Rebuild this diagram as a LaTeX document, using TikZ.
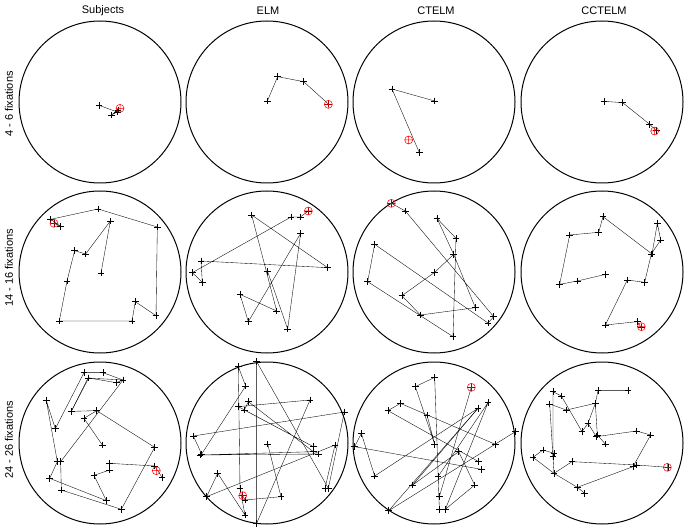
\documentclass[tikz,border=0pt]{standalone}
\usepackage{fontspec}
\setmainfont{Liberation Sans}
\newcommand\scanp[1]{\draw[line width=0.35pt] plot[mark=+,mark size=10pt,mark options={line width=0.4pt}] coordinates {#1};}
\newcommand\redm[1]{\draw[red,line width=0.5pt] #1 circle[radius=12] ++(-12,0) -- ++(24,0) ++(-12,-12) -- ++(0,24);}
\begin{document}
\begin{tikzpicture}[x=1pt,y=-1pt]
\useasboundingbox (0,0) rectangle (685,529);
\tikzset{ring/.style={line width=1pt}, lab/.style={font=\fontsize{11}{13}\selectfont}}
\foreach \cx/\t in {103/Subjects,268/ELM,436/CTELM,604/CCTELM}{\node[lab] at (\cx,11) {\t};}
\node[lab,rotate=90] at (9,104) {4 - 6 fixations};
\node[lab,rotate=90] at (9,268) {14 - 16 fixations};
\node[lab,rotate=90] at (9,440) {24 - 26 fixations};
\foreach \cx in {100,267,434,602}{
  \draw[ring] (\cx,102) circle[radius=81];
  \draw[ring] (\cx,272) circle[radius=81];
  \draw[ring] (\cx,443) circle[radius=81];
}
% row 1
\begin{scope}[shift={(18,20)},scale=1/3]
\scanp{(243,256) (298,276) (280,285) (300,270)}
\redm{(306,265)}
\end{scope}
\begin{scope}[shift={(185,20)},scale=1/3]
\scanp{(247,243) (278,170) (356,185) (430,252)}
\redm{(430,253)}
\end{scope}
\begin{scope}[shift={(352,20)},scale=1/3]
\scanp{(248,243) (120,207) (202,398)}
\redm{(170,360)}
\end{scope}
\begin{scope}[shift={(518,20)},scale=1/3]
\scanp{(258,244) (314,248) (395,313) (415,332)}
\redm{(410,333)}
\end{scope}
% row 2
\begin{scope}[shift={(18,185)},scale=1/3]
\scanp{(249,264) (277,108) (203,207) (170,197) (147,288) (124,408) (342,408) (352,350) (414,392) (418,126) (240,72) (98,103) (128,124) (108,115)}
\redm{(108,115)}
\end{scope}
\begin{scope}[shift={(185,185)},scale=1/3]
\scanp{(248,260) (308,432) (347,145) (190,410) (165,328) (275,378) (200,90) (428,248) (48,228) (52,292) (22,263) (318,96) (346,96) (370,78)}
\redm{(370,78)}
\end{scope}
\begin{scope}[shift={(352,185)},scale=1/3]
\scanp{(305,208) (370,368) (205,390) (150,332) (248,262) (305,208) (255,100) (312,160) (303,455) (47,290) (68,178) (408,414) (425,395) (160,78) (118,55)}
\redm{(118,55)}
\end{scope}
\begin{scope}[shift={(518,185)},scale=1/3]
\scanp{(263,268) (178,288) (125,298) (155,150) (242,142) (255,95) (402,207) (418,115) (428,165) (400,207) (380,292) (328,285) (262,420) (358,410) (370,428)}
\redm{(370,425)}
\end{scope}
% row 3
\begin{scope}[shift={(18,350)},scale=1/3]
\scanp{(253,285) (198,205) (236,182) (160,184) (212,84) (295,98) (315,90) (255,68) (198,68) (112,236) (85,152) (118,335) (95,385) (265,452) (228,376) (275,360) (275,340) (410,348) (432,382)}
\scanp{(236,182) (410,292) (310,478) (130,420) (128,335) (315,90) (210,84) (160,184)}
\redm{(415,362)}
\end{scope}
\begin{scope}[shift={(185,350)},scale=1/3]
\scanp{(215,35) (215,520) (375,150) (160,170) (385,290) (178,180) (190,155) (385,305) (45,315) (400,312)}
\scanp{(160,50) (182,108) (50,312) (25,258) (478,186) (430,415) (215,35)}
\scanp{(160,50) (165,415) (180,495) (98,370) (65,440) (450,285) (420,415)}
\scanp{(248,282) (288,440) (180,450) (173,437)}
\redm{(173,437)}
\end{scope}
\begin{scope}[shift={(352,350)},scale=1/3]
\scanp{(388,358) (8,290) (28,250) (68,378) (378,175) (110,482) (490,245)}
\scanp{(262,478) (248,82) (190,110) (248,283) (225,195)}
\scanp{(430,283) (145,160) (108,182) (380,335)}
\scanp{(258,380) (408,158) (280,478) (368,405) (320,305) (182,405) (378,175)}
\scanp{(262,440) (358,112)}
\redm{(358,112)}
\end{scope}
\begin{scope}[shift={(518,350)},scale=1/3]
\scanp{(330,122) (240,122) (232,160) (145,180) (95,162) (108,370) (178,412) (345,350) (398,255) (355,243) (235,260) (210,220) (232,160) (238,255) (262,282)}
\scanp{(210,220) (192,245) (130,138) (105,125) (105,320)}
\scanp{(108,310) (75,300) (45,322) (108,370) (162,335) (355,345) (450,352)}
\scanp{(178,412) (200,430)}
\redm{(448,352)}
\end{scope}
\end{tikzpicture}
\end{document}
